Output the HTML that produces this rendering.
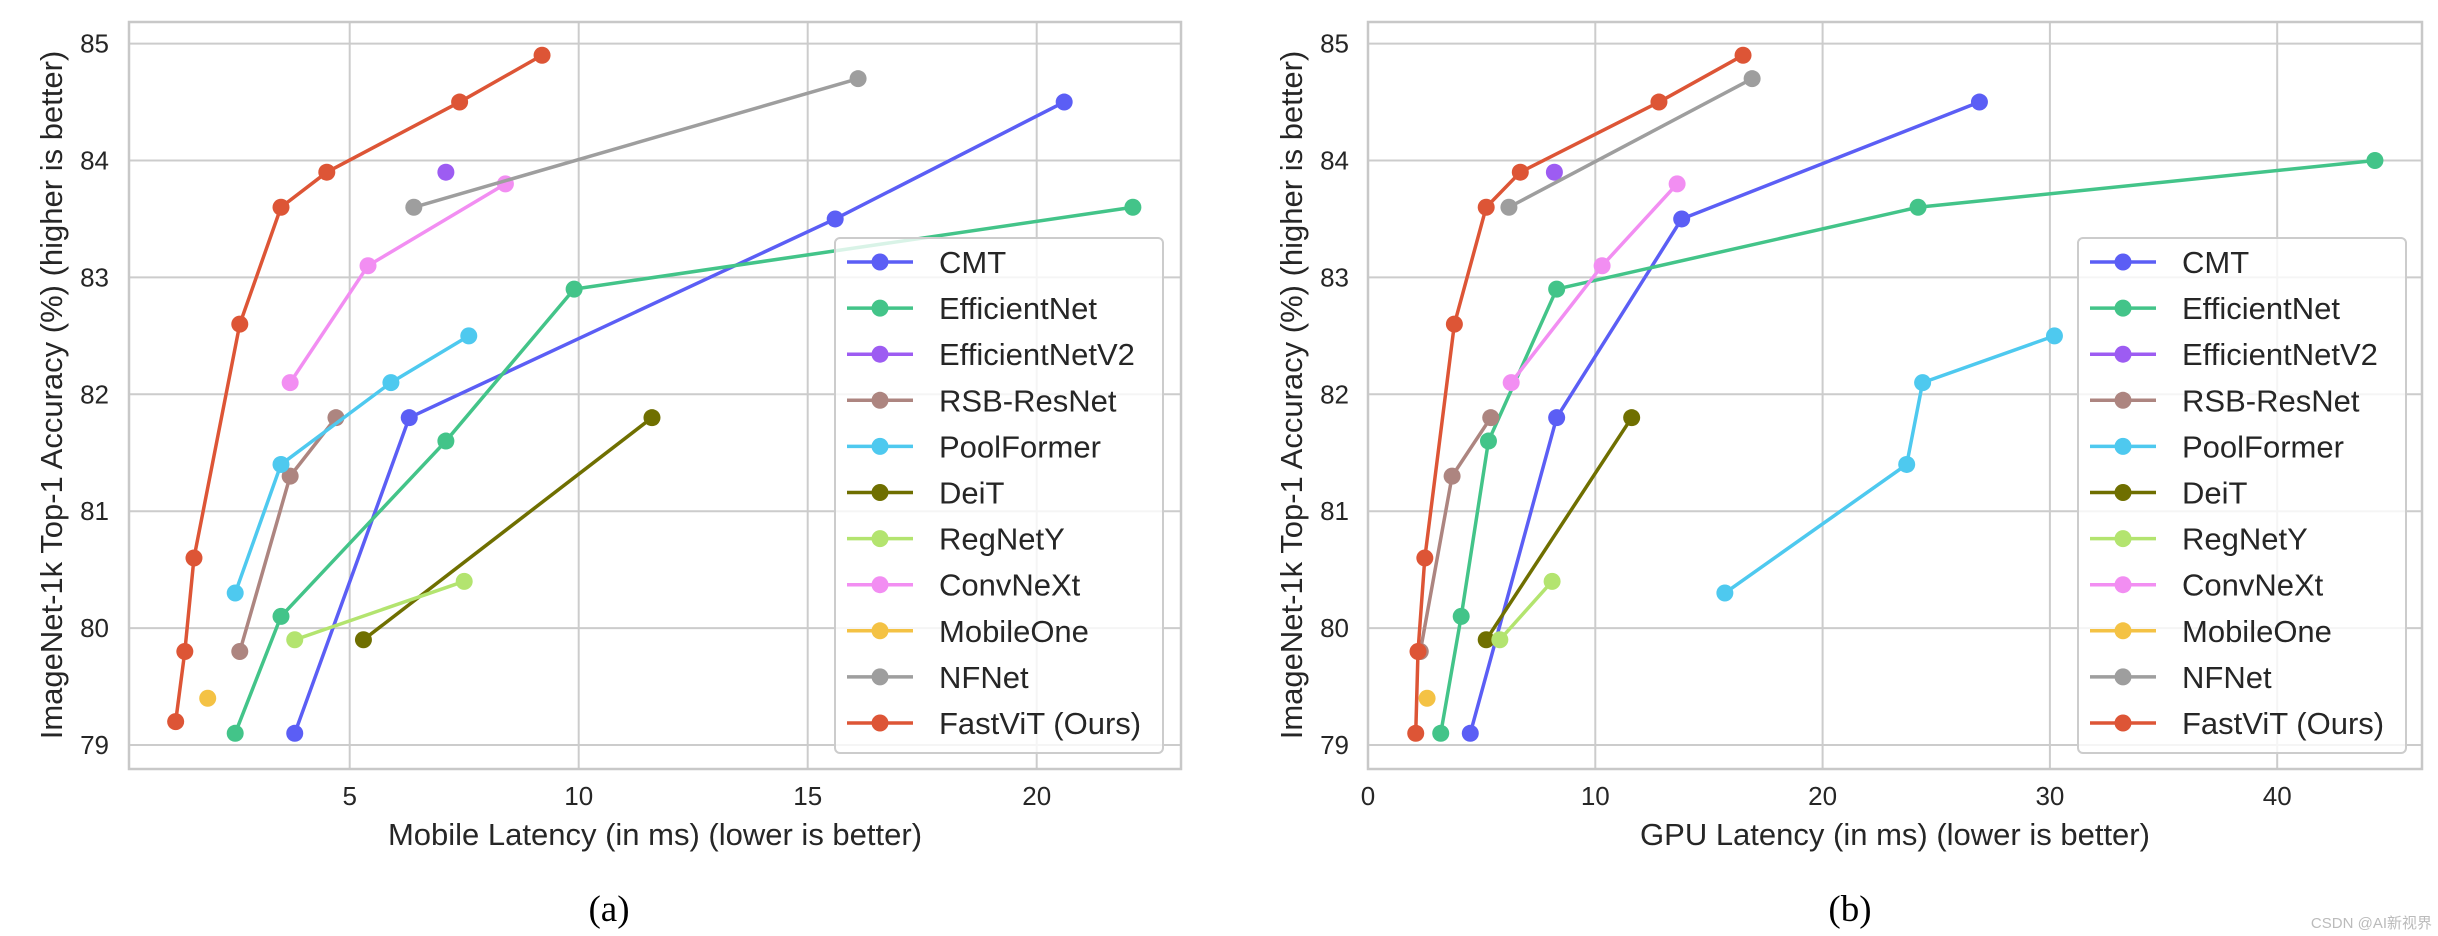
<!DOCTYPE html>
<html><head><meta charset="utf-8">
<style>
html,body{margin:0;padding:0;background:#fff;}
svg{display:block;font-family:"Liberation Sans",Arial,sans-serif;}
</style></head>
<body>
<svg id="fig" width="2438" height="936" viewBox="0 0 2438 936" xmlns="http://www.w3.org/2000/svg"></svg>
<script>
const seriesNames = ["CMT","EfficientNet","EfficientNetV2","RSB-ResNet","PoolFormer","DeiT","RegNetY","ConvNeXt","MobileOne","NFNet","FastViT (Ours)"];
const seriesColors = ["#5b5ef5","#43c489","#9d5cf2","#ad8580","#4ec9ef","#6f6f00","#b3e46f","#f28ef2","#f4c244","#9e9e9e","#dd5536"];
// Mobile latency (a)
const mobX = [
 [3.8,6.3,15.6,20.6],
 [2.5,3.5,7.1,9.9,22.1],
 [7.1],
 [2.6,3.7,4.7],
 [2.5,3.5,5.9,7.6],
 [5.3,11.6],
 [3.8,7.5],
 [3.7,5.4,8.4],
 [1.9],
 [6.4,16.1],
 [1.2,1.4,1.6,2.6,3.5,4.5,7.4,9.2]
];
const mobY = [
 [79.1,81.8,83.5,84.5],
 [79.1,80.1,81.6,82.9,83.6],
 [83.9],
 [79.8,81.3,81.8],
 [80.3,81.4,82.1,82.5],
 [79.9,81.8],
 [79.9,80.4],
 [82.1,83.1,83.8],
 [79.4],
 [83.6,84.7],
 [79.2,79.8,80.6,82.6,83.6,83.9,84.5,84.9]
];
// GPU latency (b)
const gpuX = [
 [4.5,8.3,13.8,26.9],
 [3.2,4.1,5.3,8.3,24.2,44.3],
 [8.2],
 [2.3,3.7,5.4],
 [15.7,23.7,24.4,30.2],
 [5.2,11.6],
 [5.8,8.1],
 [6.3,10.3,13.6],
 [2.6],
 [6.2,16.9],
 [2.1,2.2,2.5,3.8,5.2,6.7,12.8,16.5]
];
const gpuY = [
 [79.1,81.8,83.5,84.5],
 [79.1,80.1,81.6,82.9,83.6,84.0],
 [83.9],
 [79.8,81.3,81.8],
 [80.3,81.4,82.1,82.5],
 [79.9,81.8],
 [79.9,80.4],
 [82.1,83.1,83.8],
 [79.4],
 [83.6,84.7],
 [79.1,79.8,80.6,82.6,83.6,83.9,84.5,84.9]
];
const yTicks = [79,80,81,82,83,84,85];
const mobXTicks = [5,10,15,20];
const gpuXTicks = [0,10,20,30,40];

const NS="http://www.w3.org/2000/svg";
const svg=document.getElementById('fig');
function mk(tag,attrs,parent){const e=document.createElementNS(NS,tag);for(const k in attrs)e.setAttribute(k,attrs[k]);(parent||svg).appendChild(e);return e;}

function drawPanel(cfg){
  const g=mk('g',{});
  
  
  const sx=v=>cfg.x0+(v-cfg.xmin)*cfg.px;
  const sy=v=>745-(v-79)*116.9;
  // grid
  yTicks.forEach(t=>{
    const l=mk('line',{x1:cfg.L,x2:cfg.R,y1:sy(t),y2:sy(t),stroke:'#cccccc','stroke-width':2},g);
    
    
    const tx=mk('text',{x:cfg.ytx,y:sy(t)+9,'text-anchor':'end','font-size':26,fill:'#262626'},g);
    tx.textContent=t;
    
    
  });
  cfg.xt.forEach(t=>{
    const l=mk('line',{x1:sx(t),x2:sx(t),y1:22,y2:769,stroke:'#cccccc','stroke-width':2},g);
    
    
    const tx=mk('text',{x:sx(t),y:805,'text-anchor':'middle','font-size':26,fill:'#262626'},g);
    tx.textContent=t;
    
    
  });
  const fr=mk('rect',{x:cfg.L,y:22,width:cfg.R-cfg.L,height:747,fill:'none',stroke:'#c8c8c8','stroke-width':2.5},g);
  
  
  // series
  seriesNames.forEach((n,i)=>{
    const sg=mk('g',{},g);
    
    
    const xs=cfg.X[i], ys=cfg.Y[i];
    if(xs.length>1){
      const p=mk('polyline',{points:xs.map((x,j)=>sx(x)+','+sy(ys[j])).join(' '),fill:'none',stroke:seriesColors[i],'stroke-width':3.5,'stroke-linejoin':'round'},sg);
      
      
    }
    xs.forEach((x,j)=>{
      const c=mk('circle',{cx:sx(x),cy:sy(ys[j]),r:8.5,fill:seriesColors[i]},sg);
      
      
    });
  });
  // legend
  const lg=mk('g',{},g);
  
  
  mk('rect',{x:cfg.lx,y:238,width:328,height:515,rx:5,fill:'#ffffff','fill-opacity':0.8,stroke:'#cccccc','stroke-width':2},lg);
  seriesNames.forEach((n,i)=>{
    const cy=262+i*46.1;
    const e=mk('g',{},lg);
    
    
    mk('line',{x1:cfg.lx+12,x2:cfg.lx+78,y1:cy,y2:cy,stroke:seriesColors[i],'stroke-width':3.5},e);
    mk('circle',{cx:cfg.lx+45,cy:cy,r:8.5,fill:seriesColors[i]},e);
    const t=mk('text',{x:cfg.lx+104,y:cy+11,'font-size':31,fill:'#262626'},e);
    t.textContent=n;
  });
  const xt=mk('text',{x:(cfg.L+cfg.R)/2,y:845,'text-anchor':'middle','font-size':31,fill:'#262626'},g);
  xt.textContent=cfg.xlabel;
  
  
  const yt=mk('text',{x:0,y:0,'text-anchor':'middle','font-size':31,fill:'#262626',transform:'translate('+cfg.ylx+',395) rotate(-90)'},g);
  yt.textContent='ImageNet-1k Top-1 Accuracy (%) (higher is better)';
  
  
  const cap=mk('text',{x:cfg.capx,y:921,'text-anchor':'middle','font-size':37,fill:'#000','font-family':'"Liberation Serif",serif'},g);
  cap.textContent=cfg.cap;
  
  
}
drawPanel({id:'mobile',L:129,R:1181,x0:120.7,xmin:0,px:45.8,xt:mobXTicks,X:mobX,Y:mobY,ytx:109,ylx:62,lx:835,xlabel:'Mobile Latency (in ms) (lower is better)',cap:'(a)',capx:609});
drawPanel({id:'gpu',L:1368,R:2422,x0:1368,xmin:0,px:22.73,xt:gpuXTicks,X:gpuX,Y:gpuY,ytx:1349,ylx:1302,lx:2078,xlabel:'GPU Latency (in ms) (lower is better)',cap:'(b)',capx:1850});
const wm=mk('text',{x:2432,y:928,'text-anchor':'end','font-size':15,fill:'#bbbbbb','font-family':'"Liberation Sans","Noto Sans CJK SC",sans-serif'});
wm.textContent='CSDN @AI新视界';


</script>
</body></html>
